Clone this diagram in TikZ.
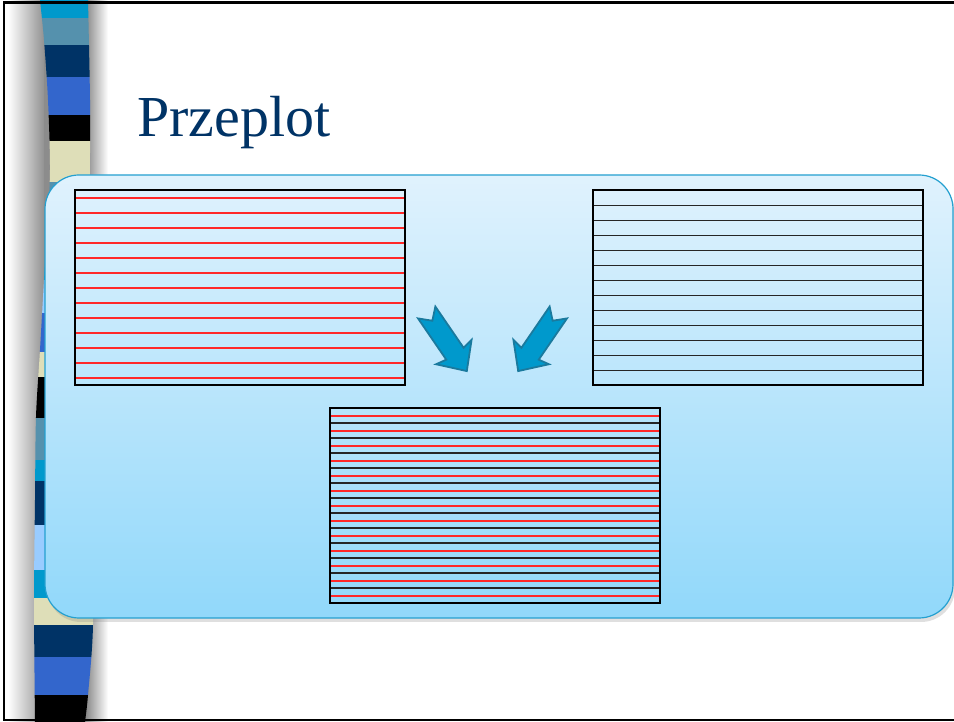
\documentclass[tikz,border=0pt]{standalone}
\usepackage{fontspec}
\setmainfont{Liberation Serif}
\usetikzlibrary{positioning,shadows}

\definecolor{bcyan}{RGB}{0,153,204}
\definecolor{bsteel}{RGB}{85,145,173}
\definecolor{bnavy}{RGB}{0,51,102}
\definecolor{broyal}{RGB}{51,102,204}
\definecolor{bbeige}{RGB}{222,222,184}
\definecolor{blight}{RGB}{153,204,255}
\definecolor{paneltop}{RGB}{224,242,253}
\definecolor{panelbot}{RGB}{145,216,250}
\definecolor{panelline}{RGB}{36,160,208}
\definecolor{lred}{RGB}{255,40,40}
\definecolor{arrowfill}{RGB}{0,153,204}
\definecolor{arrowline}{RGB}{26,122,158}

\tikzset{
  card/.style={draw=black, line width=2pt, inner sep=0pt, minimum width=330pt, minimum height=195pt},
  redline/.style={draw=lred, line width=1.6pt, shorten <=2pt, shorten >=2pt},
  blackline/.style={draw=black!85, line width=1.6pt, shorten <=2pt, shorten >=2pt},
  panel/.style={draw=panelline, line width=1.2pt, top color=paneltop, bottom color=panelbot,
    rounded corners=34pt, inner sep=0pt,
    drop shadow={shadow xshift=2pt, shadow yshift=-4pt, opacity=0.25}},
  blok/.style={fill=arrowfill, draw=arrowline, line width=1.8pt, line join=miter},
  tytul/.style={text=bnavy, font=\fontsize{58}{62}\selectfont, inner sep=0pt}
}

\begin{document}
\begin{tikzpicture}[x=1pt,y=1pt]
\useasboundingbox (0,0) rectangle (954,722);
\fill[white] (0,0) rectangle (954,722);

% shadow round the band
\shade[left color=white, right color=black!45] (8,0) rectangle (46,722);
\fill[black!45] (44,330) rectangle (54,722);
\shade[left color=black!50, right color=white] (84,0) rectangle (108,722);

% striped band
\begin{scope}
  \clip plot[smooth] coordinates {(40,722) (44,682) (48,622) (50,552) (47,492) (44,442) (40,372) (36,305) (35,222) (34,122) (35,0)}
    -- plot[smooth] coordinates {(85,0) (88,27) (93,97) (92,222) (91,422) (90,542) (90,622) (88,722)} -- cycle;
  \foreach \ya/\yb/\c in {0/18/bcyan, 18/45/bsteel, 45/77/bnavy, 77/115/broyal, 115/141/black,
      141/182/bbeige, 182/230/bsteel, 230/280/bcyan, 280/313/blight, 313/352/broyal,
      352/377/bbeige, 377/418/black, 418/460/bsteel, 460/481/bcyan, 481/525/bnavy,
      525/570/blight, 570/598/bcyan, 598/625/bbeige, 625/657/bnavy, 657/695/broyal, 695/722/black}
    \fill[\c] (20,{722-\ya}) rectangle (110,{722-\yb});
\end{scope}

\node[tytul, anchor=base west] (t) at (137,585) {Przeplot};

\node[panel, minimum width=908pt, minimum height=443pt] (p) at (499,325.5) {};

\node[card] (a) at (240,434.5) {};
\node[card, right=186pt of a] (b) {};
\node[card] (c) at (495,216.5) {};

% lines
\foreach \k in {0,...,12}
  \draw[redline] ([yshift=-8.8pt-\k*15pt]a.north west) -- ([yshift=-8.8pt-\k*15pt]a.north east);
\foreach \k in {0,...,11}
  \draw[blackline] ([yshift=-16.5pt-\k*15pt]b.north west) -- ([yshift=-16.5pt-\k*15pt]b.north east);
\foreach \k in {0,...,12}
  \draw[redline] ([yshift=-8.8pt-\k*15pt]c.north west) -- ([yshift=-8.8pt-\k*15pt]c.north east);
\foreach \k in {0,...,11}
  \draw[blackline] ([yshift=-16.3pt-\k*15pt]c.north west) -- ([yshift=-16.3pt-\k*15pt]c.north east);

% arrows
\draw[blok, shift={(426.7,409.5)}, rotate=-55.6]
  (0,10.5) -- (50,10.5) -- (48,21.5) -- (71,0) -- (48,-21.5) -- (50,-10.5) -- (0,-10.5) -- (10,0) -- cycle;
\draw[blok, shift={(558.3,409.5)}, rotate=-124.4]
  (0,10.5) -- (50,10.5) -- (48,21.5) -- (71,0) -- (48,-21.5) -- (50,-10.5) -- (0,-10.5) -- (10,0) -- cycle;

% frame
\draw[line width=2.5pt] (958,719.5) -- (4,719.5) -- (4,2) -- (958,2);
\end{tikzpicture}
\end{document}
